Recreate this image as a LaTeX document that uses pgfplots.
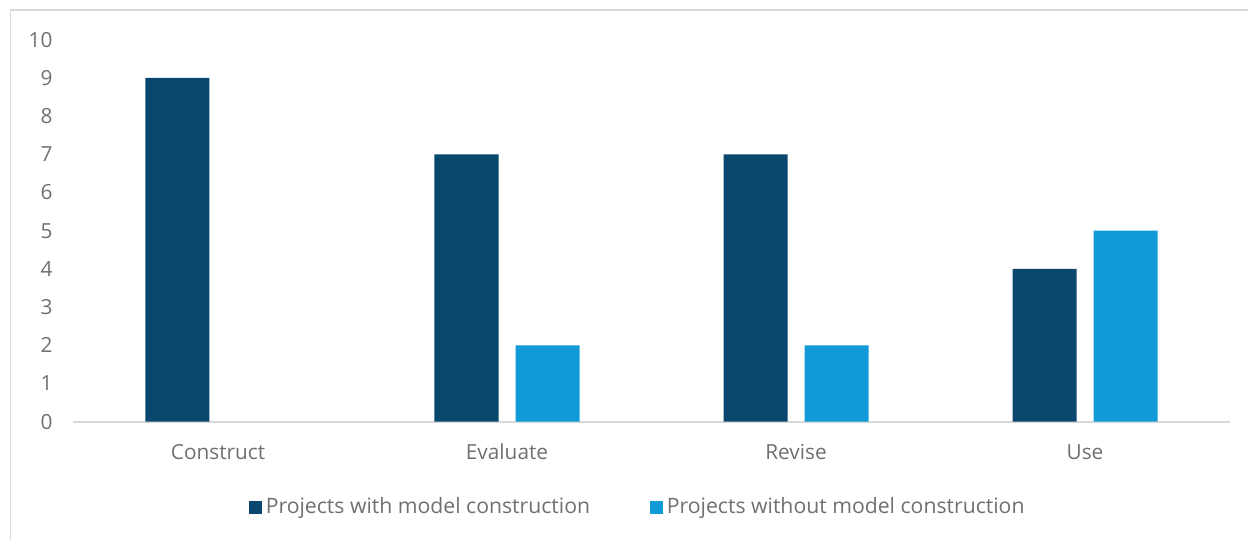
\documentclass[border=0pt]{standalone}
\usepackage{pgfplots}
\pgfplotsset{compat=1.18}
\usepackage{fontspec}
\setmainfont{Open Sans}
\definecolor{darkb}{RGB}{10,71,111}
\definecolor{lightb}{RGB}{17,154,216}
\definecolor{txt}{RGB}{112,112,112}
\definecolor{frame}{RGB}{217,217,217}
\begin{document}
\begin{tikzpicture}
\path[use as bounding box] (-36.75pt,-59.15pt) rectangle (587.25pt,210.85pt);
\draw[frame, line width=0.8pt] (-31.5pt,-70pt) -- (-31.5pt,205.85pt) -- (600pt,205.85pt);
\begin{axis}[
  at={(0pt,0pt)}, anchor=south west,
  scale only axis,
  width=578pt, height=191pt,
  xmin=-0.5, xmax=3.5, ymin=0, ymax=10,
  ybar=8.5pt, bar width=32pt,
  axis lines=left,
  axis line style={-},
  y axis line style={draw=none},
  x axis line style={draw=frame, line width=1pt},
  xtick={0,1,2,3},
  xticklabels={Construct,Evaluate,Revise,Use},
  ytick={0,1,...,10},
  major tick length=0pt,
  tick label style={font=\fontsize{10.4}{12}\selectfont, text=txt},
  /pgf/number format/assume math mode=true,
  xticklabel style={yshift=-8pt, text height=0.75em, text depth=0.25em},
  yticklabel style={xshift=-7pt},
  legend columns=2,
  legend style={at={(0.489,-0.224)}, anchor=center, draw=none,
    font=\fontsize{10.6}{12}\selectfont, text=txt,
    /tikz/every even column/.append style={column sep=28pt}},
  legend image code/.code={\fill[#1] (0pt,-3.2pt) rectangle (6.4pt,3.2pt);},
]
\addplot[fill=darkb, draw=none] coordinates {(0,9) (1,7) (2,7) (3,4)};
\addplot[fill=lightb, draw=none] coordinates {(1,2) (2,2) (3,5)};
\legend{Projects with model construction, Projects without model construction}
\end{axis}
\end{tikzpicture}
\end{document}
